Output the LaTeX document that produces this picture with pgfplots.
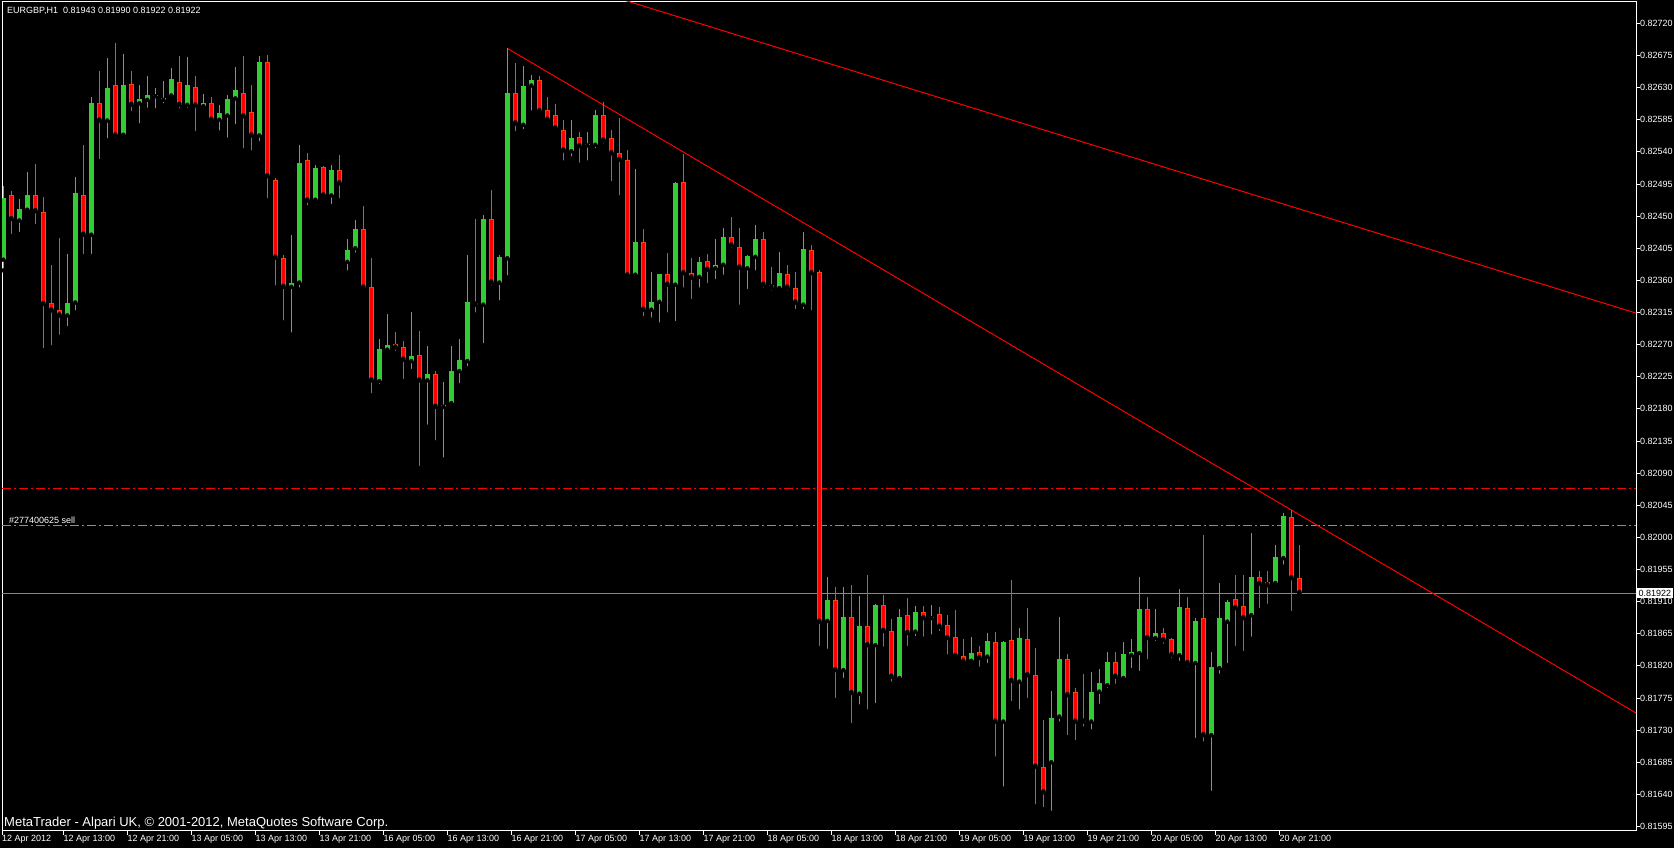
\documentclass[border=0pt]{standalone}
\usepackage{fontspec}
\setmainfont{Liberation Sans}
\usepackage{pgfplots}
\usepackage{pgfplotstable}
\pgfplotsset{compat=1.18}

\definecolor{bull}{RGB}{50,205,50}
\definecolor{bearfill}{RGB}{255,0,0}
\definecolor{bearline}{RGB}{255,69,0}
\definecolor{bidline}{RGB}{119,136,153}

% EURGBP H1 candles, x = bar number from the left edge
\pgfplotstableread{
i o h l c
0 0.82389 0.82492 0.82374 0.82475
2 0.82444 0.82474 0.82425 0.82460
3 0.82459 0.82512 0.82457 0.82479
8 0.82311 0.82397 0.82293 0.82328
9 0.82329 0.82505 0.82315 0.82483
11 0.82424 0.82617 0.82394 0.82609
13 0.82584 0.82672 0.82556 0.82630
15 0.82564 0.82677 0.82563 0.82634
17 0.82608 0.82634 0.82577 0.82614
18 0.82613 0.82647 0.82599 0.82619
19 0.82618 0.82630 0.82598 0.82618
20 0.82613 0.82640 0.82605 0.82616
21 0.82619 0.82658 0.82615 0.82642
23 0.82606 0.82673 0.82599 0.82634
25 0.82604 0.82621 0.82598 0.82609
27 0.82585 0.82606 0.82567 0.82595
28 0.82591 0.82620 0.82557 0.82614
29 0.82615 0.82659 0.82576 0.82627
32 0.82563 0.82675 0.82552 0.82666
36 0.82351 0.82424 0.82284 0.82357
37 0.82357 0.82550 0.82347 0.82525
39 0.82473 0.82522 0.82469 0.82518
41 0.82479 0.82522 0.82464 0.82514
43 0.82386 0.82418 0.82371 0.82403
44 0.82405 0.82445 0.82396 0.82432
47 0.82219 0.82278 0.82212 0.82264
48 0.82263 0.82313 0.82259 0.82270
51 0.82247 0.82316 0.82233 0.82254
53 0.82220 0.82268 0.82155 0.82229
55 0.82183 0.82218 0.82109 0.82186
56 0.82188 0.82268 0.82186 0.82233
57 0.82233 0.82278 0.82213 0.82249
58 0.82247 0.82395 0.82237 0.82330
60 0.82326 0.82451 0.82269 0.82446
62 0.82357 0.82396 0.82329 0.82393
63 0.82391 0.82685 0.82364 0.82623
65 0.82578 0.82661 0.82569 0.82633
66 0.82633 0.82648 0.82595 0.82641
71 0.82541 0.82585 0.82531 0.82560
73 0.82549 0.82568 0.82525 0.82551
74 0.82550 0.82599 0.82542 0.82592
79 0.82368 0.82516 0.82367 0.82414
81 0.82319 0.82372 0.82305 0.82330
82 0.82330 0.82369 0.82298 0.82369
84 0.82354 0.82498 0.82300 0.82497
87 0.82365 0.82393 0.82347 0.82386
89 0.82377 0.82418 0.82359 0.82382
90 0.82382 0.82433 0.82365 0.82421
93 0.82377 0.82395 0.82345 0.82394
94 0.82393 0.82438 0.82371 0.82418
97 0.82349 0.82400 0.82348 0.82371
100 0.82326 0.82428 0.82317 0.82404
103 0.81883 0.81945 0.81841 0.81912
105 0.81814 0.81930 0.81800 0.81888
107 0.81781 0.81918 0.81763 0.81876
109 0.81849 0.81906 0.81765 0.81905
112 0.81803 0.81899 0.81800 0.81888
114 0.81868 0.81904 0.81859 0.81895
116 0.81887 0.81905 0.81861 0.81889
121 0.81827 0.81860 0.81827 0.81838
123 0.81833 0.81866 0.81821 0.81855
125 0.81742 0.81855 0.81648 0.81853
127 0.81798 0.81873 0.81756 0.81859
131 0.81685 0.81785 0.81614 0.81747
132 0.81749 0.81888 0.81739 0.81829
136 0.81742 0.81811 0.81728 0.81783
137 0.81784 0.81815 0.81764 0.81796
138 0.81793 0.81839 0.81786 0.81825
140 0.81803 0.81854 0.81798 0.81836
141 0.81835 0.81857 0.81814 0.81839
142 0.81838 0.81944 0.81810 0.81899
144 0.81859 0.81899 0.81852 0.81866
147 0.81835 0.81927 0.81824 0.81902
149 0.81824 0.81887 0.81716 0.81883
151 0.81723 0.81839 0.81642 0.81819
152 0.81817 0.81936 0.81806 0.81887
153 0.81882 0.81912 0.81821 0.81909
156 0.81891 0.82006 0.81858 0.81944
159 0.81936 0.81990 0.81932 0.81972
160 0.81971 0.82034 0.81959 0.82030
}\bulltab

\pgfplotstableread{
i o h l c
1 0.82479 0.82485 0.82422 0.82446
4 0.82479 0.82523 0.82436 0.82457
5 0.82456 0.82477 0.82262 0.82327
6 0.82328 0.82382 0.82266 0.82318
7 0.82319 0.82419 0.82281 0.82311
10 0.82480 0.82550 0.82394 0.82424
12 0.82609 0.82654 0.82527 0.82584
14 0.82634 0.82693 0.82557 0.82563
16 0.82635 0.82654 0.82594 0.82606
22 0.82638 0.82675 0.82598 0.82606
24 0.82631 0.82647 0.82566 0.82605
26 0.82609 0.82617 0.82584 0.82585
30 0.82623 0.82675 0.82542 0.82590
31 0.82596 0.82634 0.82539 0.82563
33 0.82666 0.82676 0.82472 0.82506
34 0.82501 0.82504 0.82350 0.82392
35 0.82392 0.82396 0.82301 0.82351
38 0.82528 0.82539 0.82462 0.82472
40 0.82519 0.82520 0.82475 0.82479
42 0.82514 0.82535 0.82472 0.82496
45 0.82432 0.82464 0.82344 0.82350
46 0.82351 0.82392 0.82199 0.82220
49 0.82271 0.82288 0.82258 0.82266
50 0.82267 0.82275 0.82219 0.82249
52 0.82256 0.82289 0.82097 0.82220
54 0.82229 0.82233 0.82133 0.82183
59 0.82329 0.82446 0.82312 0.82326
61 0.82446 0.82487 0.82350 0.82357
64 0.82623 0.82665 0.82566 0.82580
67 0.82641 0.82647 0.82591 0.82597
68 0.82598 0.82617 0.82584 0.82585
69 0.82591 0.82607 0.82570 0.82573
70 0.82571 0.82584 0.82525 0.82542
72 0.82561 0.82568 0.82522 0.82548
75 0.82591 0.82610 0.82549 0.82556
76 0.82560 0.82571 0.82496 0.82538
77 0.82539 0.82588 0.82476 0.82529
78 0.82529 0.82543 0.82361 0.82367
80 0.82414 0.82432 0.82307 0.82319
83 0.82369 0.82399 0.82312 0.82354
85 0.82498 0.82537 0.82347 0.82370
86 0.82370 0.82391 0.82331 0.82364
88 0.82387 0.82397 0.82353 0.82375
91 0.82421 0.82449 0.82402 0.82409
92 0.82407 0.82433 0.82323 0.82378
95 0.82418 0.82428 0.82347 0.82354
96 0.82354 0.82379 0.82343 0.82350
98 0.82369 0.82382 0.82343 0.82350
99 0.82350 0.82372 0.82317 0.82329
101 0.82403 0.82410 0.82315 0.82370
102 0.82372 0.82374 0.81845 0.81882
104 0.81912 0.81930 0.81772 0.81814
106 0.81888 0.81934 0.81737 0.81782
108 0.81876 0.81947 0.81756 0.81849
110 0.81905 0.81919 0.81844 0.81869
111 0.81869 0.81885 0.81795 0.81805
113 0.81891 0.81915 0.81845 0.81866
115 0.81895 0.81904 0.81858 0.81887
117 0.81892 0.81902 0.81866 0.81875
118 0.81877 0.81891 0.81833 0.81859
119 0.81860 0.81898 0.81831 0.81834
120 0.81834 0.81857 0.81825 0.81826
122 0.81839 0.81848 0.81816 0.81831
124 0.81853 0.81867 0.81690 0.81742
126 0.81856 0.81940 0.81768 0.81799
128 0.81857 0.81901 0.81772 0.81807
129 0.81807 0.81845 0.81623 0.81679
130 0.81679 0.81744 0.81619 0.81643
133 0.81829 0.81836 0.81720 0.81779
134 0.81784 0.81789 0.81713 0.81742
135 0.81743 0.81808 0.81732 0.81742
139 0.81825 0.81840 0.81792 0.81805
143 0.81899 0.81916 0.81826 0.81859
145 0.81866 0.81873 0.81848 0.81856
146 0.81857 0.81859 0.81828 0.81835
148 0.81901 0.81916 0.81821 0.81824
150 0.81887 0.82003 0.81711 0.81723
154 0.81913 0.81947 0.81845 0.81901
155 0.81904 0.81947 0.81838 0.81887
157 0.81944 0.81953 0.81898 0.81935
158 0.81937 0.81953 0.81904 0.81933
161 0.82028 0.82038 0.81894 0.81943
162 0.81943 0.81990 0.81922 0.81922
}\beartab

\pgfplotsset{
  bar/.style={only marks, mark=none, forget plot,
    error bars/.cd, y dir=plus, y explicit, error mark=none,
    error bar style={#1}},
}

\begin{document}
\begin{tikzpicture}[x=1bp,y=1bp,font=\fontsize{9bp}{10bp}\selectfont]
\fill[black] (0,0) rectangle (1674,848);
\begin{axis}[
  at={(2bp,17bp)}, anchor=south west,
  scale only axis, width=1634bp, height=829bp,
  xmin=-0.1625, xmax=204.0875,
  ymin=0.815887, ymax=0.8275,
  axis line style={white, line width=1bp},
  tick style={white, line width=1bp},
  tick align=outside, major tick length=4bp,
  xtick pos=left, ytick pos=right, yticklabel pos=right,
  scaled y ticks=false,
  xtick={-0.1625,7.5,15.5,23.5,31.5,39.5,47.5,55.5,63.5,71.5,79.5,87.5,95.5,103.5,111.5,119.5,127.5,135.5,143.5,151.5,159.5},
  xticklabels={12 Apr 2012,12 Apr 13:00,12 Apr 21:00,13 Apr 05:00,13 Apr 13:00,13 Apr 21:00,16 Apr 05:00,16 Apr 13:00,16 Apr 21:00,17 Apr 05:00,17 Apr 13:00,17 Apr 21:00,18 Apr 05:00,18 Apr 13:00,18 Apr 21:00,19 Apr 05:00,19 Apr 13:00,19 Apr 21:00,20 Apr 05:00,20 Apr 13:00,20 Apr 21:00},
  ytick={0.81595,0.8164,0.81685,0.8173,0.81775,0.8182,0.81865,0.8191,0.81955,0.82,0.82045,0.8209,0.82135,0.8218,0.82225,0.8227,0.82315,0.8236,0.82405,0.8245,0.82495,0.8254,0.82585,0.8263,0.82675,0.8272},
  yticklabels={0.81595,0.81640,0.81685,0.81730,0.81775,0.81820,0.81865,0.81910,0.81955,0.82000,0.82045,0.82090,0.82135,0.82180,0.82225,0.82270,0.82315,0.82360,0.82405,0.82450,0.82495,0.82540,0.82585,0.82630,0.82675,0.82720},
  xticklabel style={anchor=north west, inner sep=0pt, text=white, font=\fontsize{9bp}{10bp}\selectfont},
  yticklabel style={anchor=west, inner sep=0pt, text=white, font=\fontsize{9bp}{10bp}\selectfont},
]
% horizontal order lines and trend lines
\addplot[red, line width=1bp, dash pattern=on 9bp off 3bp on 2bp off 3bp] coordinates {(-0.1625,0.82069) (204.0875,0.82069)};
\addplot[bull, line width=1bp, dash pattern=on 9bp off 3bp on 2bp off 3bp] coordinates {(-0.1625,0.82016) (204.0875,0.82016)};
\addplot[bidline, line width=1bp] coordinates {(-0.1625,0.81922) (204.0875,0.81922)};
\addplot[red, line width=1bp] coordinates {(40,0.82883) (205,0.82311)};
\addplot[red, line width=1bp] coordinates {(63,0.82685) (205,0.81748)};

% wicks
\addplot[bar={bull, line width=1bp}] table[x=i, y=l, y error plus expr=\thisrow{h}-\thisrow{l}] {\bulltab};
\addplot[bar={bearline, line width=1bp}] table[x=i, y=l, y error plus expr=\thisrow{h}-\thisrow{l}] {\beartab};
% bodies
\addplot[bar={bull, line width=5bp}] table[x=i, y=o, y error plus expr={max(\thisrow{c}-\thisrow{o},0.000014)}] {\bulltab};
\addplot[bar={bearline, line width=5bp}] table[x=i, y=c, y error plus expr={max(\thisrow{o}-\thisrow{c},0.000014)}] {\beartab};
\addplot[bar={bearfill, line width=3bp}] table[x=i, y expr=\thisrow{c}+0.000014, y error plus expr={max(\thisrow{o}-\thisrow{c}-0.000028,0)}] {\beartab};

\node[anchor=base west, text=white, inner sep=0pt] at (axis cs:0.71,0.82016) [yshift=2.5bp] {\#277400625 sell};
\coordinate (bid) at (axis cs:204.0875,0.81922);
\end{axis}
\node[fill=white, text=black, anchor=west, inner xsep=1.5bp, inner ysep=1.5bp] at ([xshift=1bp]bid) {0.81922};
\node[anchor=base west, text=white, inner sep=0pt] at (7,834) {EURGBP,H1\ \ 0.81943 0.81990 0.81922 0.81922};
\node[anchor=base west, text=white, inner sep=0pt, font=\fontsize{13bp}{14bp}\selectfont] at (4,21) {MetaTrader - Alpari UK, © 2001-2012, MetaQuotes Software Corp.};
\pgfresetboundingbox
\path (0,0) rectangle (1674,848);
\end{tikzpicture}
\end{document}
